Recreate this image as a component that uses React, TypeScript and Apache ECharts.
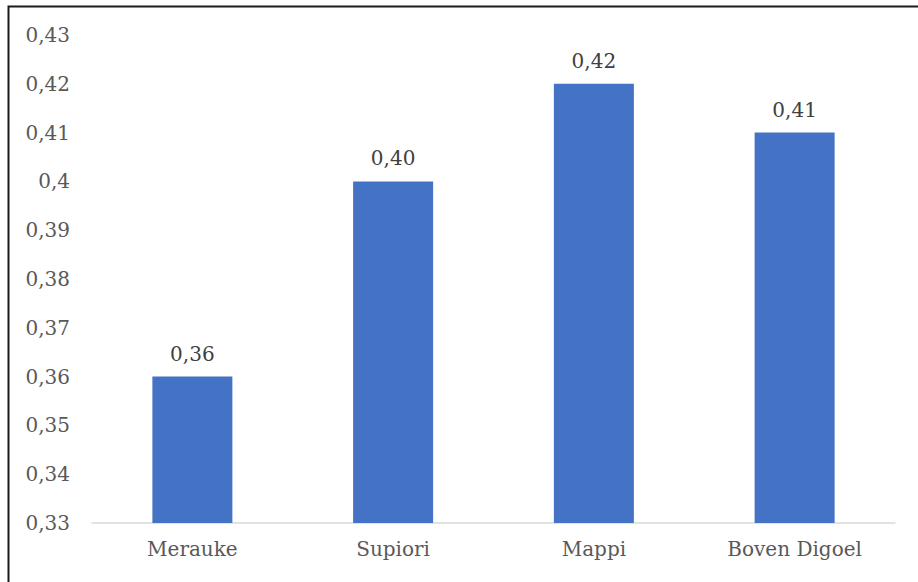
import React, { useEffect, useRef } from "react";
import * as echarts from "echarts";

const categories = ["Merauke", "Supiori", "Mappi", "Boven Digoel"];
const values = [0.36, 0.4, 0.42, 0.41];

const fmtAxis = (v: number) => String(parseFloat(v.toFixed(2))).replace(".", ",");
const fmtLabel = (v: number) => v.toFixed(2).replace(".", ",");

export default function App() {
  const ref = useRef<HTMLDivElement>(null);
  useEffect(() => {
    if (!ref.current) return;
    const chart = echarts.init(ref.current, null, { renderer: "svg" });
    const font = "'DejaVu Serif', serif";
    chart.setOption({
      animation: false,
      backgroundColor: "#ffffff",
      textStyle: { fontFamily: font },
      graphic: [
        {
          type: "rect",
          shape: { x: 8.5, y: 6.5, width: 940, height: 600 },
          style: { fill: "none", stroke: "#1a1a1a", lineWidth: 2 },
          silent: true,
        },
      ],
      grid: { left: 92, right: 23, top: 35, bottom: 59, containLabel: false },
      xAxis: {
        type: "category",
        data: categories,
        axisTick: { show: false },
        axisLine: { lineStyle: { color: "#d9d9d9", width: 1.5 } },
        axisLabel: { color: "#595959", fontSize: 20, fontFamily: font, margin: 16 },
      },
      yAxis: {
        type: "value",
        min: 0.33,
        max: 0.43,
        interval: 0.01,
        splitLine: { show: false },
        axisLine: { show: false },
        axisTick: { show: false },
        axisLabel: {
          color: "#595959",
          fontSize: 20,
          fontFamily: font,
          align: "right",
          margin: 22,
          formatter: (v: number) => fmtAxis(v),
        },
      },
      series: [
        {
          type: "bar",
          data: values,
          barWidth: 80,
          itemStyle: { color: "#4472c4" },
          label: {
            show: true,
            position: "top",
            distance: 13,
            color: "#404040",
            fontSize: 20,
            fontFamily: font,
            formatter: (p: any) => fmtLabel(p.value),
          },
        },
      ],
    });
    return () => chart.dispose();
  }, []);
  return (
    <div
      ref={ref}
      style={{ position: "fixed", left: 0, top: 0, width: 918, height: 582 }}
    />
  );
}
